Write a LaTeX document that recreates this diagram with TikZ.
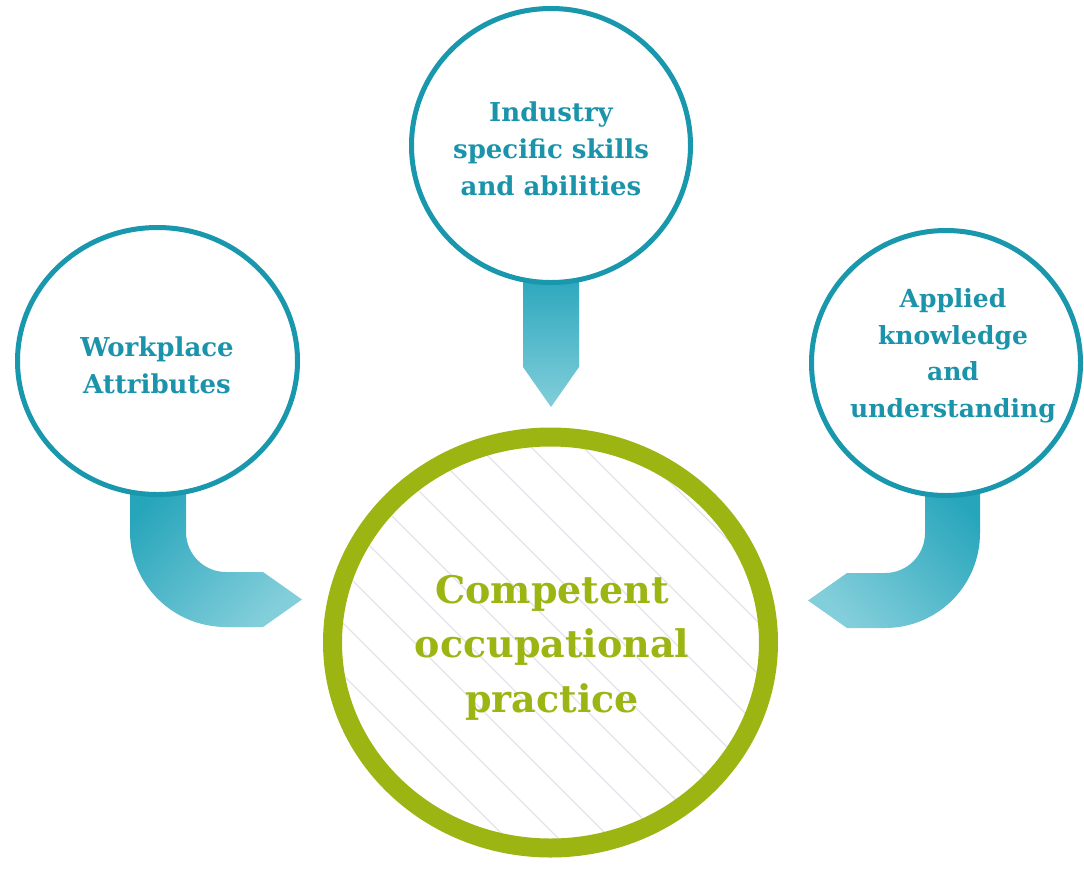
\documentclass[tikz,border=0pt]{standalone}
\usepackage{fontspec}
\setmainfont{DejaVu Serif}
\usetikzlibrary{shapes.geometric}
\definecolor{tealline}{HTML}{1897AD}
\definecolor{tealtxt}{HTML}{1A93AB}
\definecolor{arrdark}{HTML}{27A5BB}
\definecolor{arrlight}{HTML}{82CEDA}
\definecolor{olive}{HTML}{9CB513}
\definecolor{hatchgray}{HTML}{E3E4EA}
\begin{document}
\begin{tikzpicture}[x=1pt,y=-1pt,
  bubble/.style={ellipse, draw=tealline, line width=5pt, fill=white, inner sep=0pt},
  core/.style={ellipse, draw=olive, line width=19pt, inner sep=0pt},
  lbl/.style={align=center, text=tealtxt, anchor=base, inner sep=0pt,
              font=\fontsize{26}{37}\selectfont\bfseries},
  lblsmall/.style={lbl, font=\fontsize{25}{36.5}\selectfont\bfseries},
  corelbl/.style={align=center, text=olive, anchor=base, inner sep=0pt,
              font=\fontsize{38}{54.5}\selectfont\bfseries},
  flow/.style={top color=arrdark, bottom color=arrlight}]
\useasboundingbox[fill=white] (0,0) rectangle (1084,871);

% hatch inside the central circle
\begin{scope}
  \clip (550.5,642.5) ellipse [x radius=218pt, y radius=205.5pt];
  \foreach \c in {-140,-88,...,800}
    \draw[hatchgray, line width=1.3pt] (\c,400) -- +(500,500);
\end{scope}

% arrows
\shade[flow] (523,270) -- (579,270) -- (579,367) -- (551,407) -- (523,367) -- cycle;
\shade[flow, shading angle=45]
  (130,470) -- (186,470) -- (186,532) .. controls (186,554.1) and (203.9,572) .. (226,572)
  -- (263,572) -- (302,599.5) -- (263,627) -- (226,627)
  .. controls (173,627) and (130,584.5) .. (130,532) -- cycle;
\shade[flow, shading angle=-45]
  (925,470) -- (980,470) -- (980,533) .. controls (980,585.5) and (937.5,628) .. (885,628)
  -- (847,628) -- (808,600.5) -- (847,573) -- (885,573)
  .. controls (907.1,573) and (925,555.1) .. (925,533) -- cycle;

% circles
\node[bubble, minimum width=279pt, minimum height=274pt] (top) at (551,145.5) {};
\node[bubble, minimum width=280pt, minimum height=267pt] (left) at (157.5,361) {};
\node[bubble, minimum width=269pt, minimum height=265pt] (right) at (946,363) {};
\node[core, minimum width=436pt, minimum height=411pt] (centre) at (550.5,642.5) {};

% labels (anchored at the baseline of their last line)
\node[lbl] (toptxt) at (551,195) {Industry\\specific skills\\and abilities};
\node[lbl] (lefttxt) at (157,393) {Workplace\\Attributes};
\node[lblsmall] (righttxt) at (953,417) {Applied\\knowledge\\and\\understanding};
\node[corelbl] (centretxt) at (552,712) {Competent\\occupational\\practice};
\end{tikzpicture}
\end{document}
